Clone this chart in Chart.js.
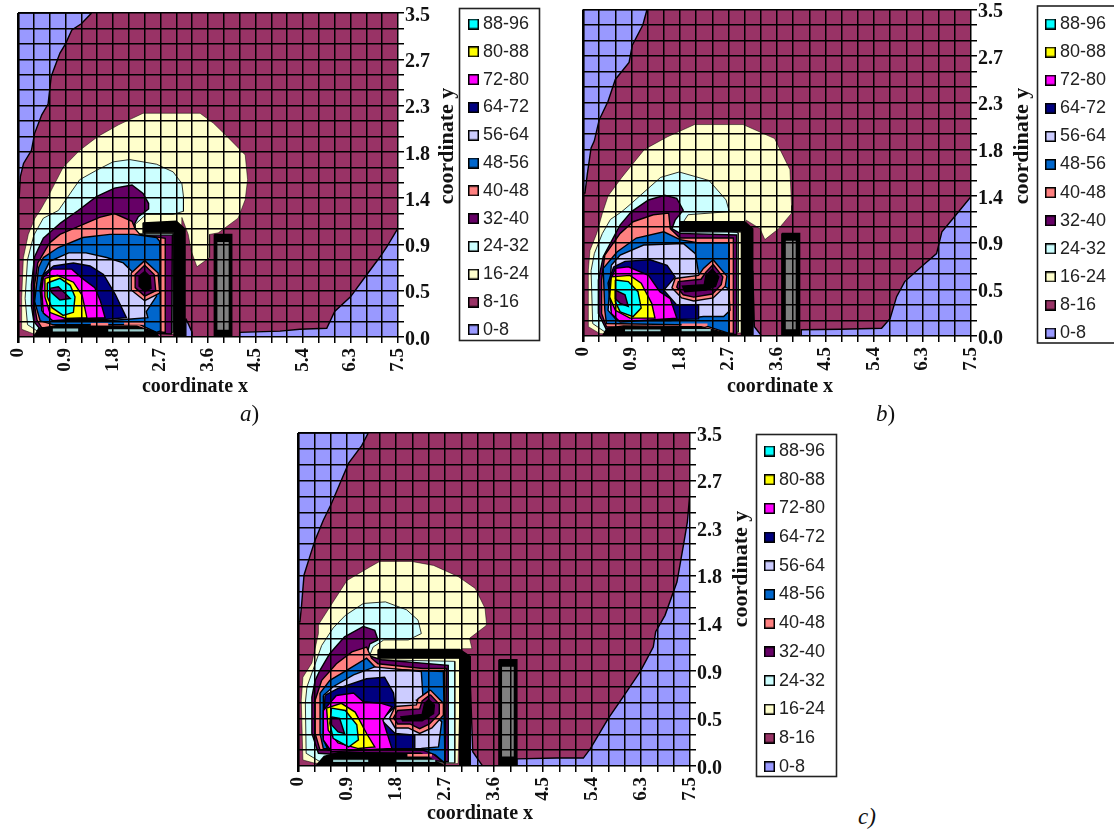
<!DOCTYPE html>
<html>
<head>
<meta charset="utf-8">
<title>coordinate x / coordinate y</title>
<script src="https://cdn.jsdelivr.net/npm/chart.js@4"></script>
<style>
  html, body { margin: 0; background: #fff; overflow: hidden; width: 1114px; height: 833px; }
  canvas { position: absolute; }
  .cap { position: absolute; font: 23px "Liberation Serif", serif; color: #111; }
  .cap i { font-style: italic; }
</style>
</head>
<body>
<canvas id="panelA"></canvas>
<canvas id="panelB"></canvas>
<canvas id="panelC"></canvas>
<span class="cap" style="left:240px;top:401px"><i>a</i>)</span>
<span class="cap" style="left:876px;top:401px"><i>b</i>)</span>
<span class="cap" style="left:858px;top:804px"><i>c)</i></span>
<script>
// axes (the source chart is a surface chart, so both axes run over grid cells)
const xTickLabels = ['0','','','0.9','','','1.8','','','2.7','','','3.6','','','4.5','','','5.4','','','6.3','','','7.5'];
const yTickLabels = ['0.0','','','0.5','','','0.9','','','1.4','','','1.8','','','2.3','','','2.7','','','3.5'];

// legend, top to bottom
const bandLabels = ['88-96','80-88','72-80','64-72','56-64','48-56','40-48','32-40','24-32','16-24','8-16','0-8'];
const bandColors = ['#00ffff','#ffff00','#ff00ff','#000080','#ccccff','#0066cc','#ff8080','#660066','#ccffff','#ffffcc','#993366','#9999ff'];

const wholeField = [[0,0],[24,0],[24,21],[0,21]];

// ---- panel a
const a0to8Left = [[4.65,21],[4,20.3],[3.4,19.9],[3,19],[2.65,18.4],[2.1,16.9],[1.9,15.1],[1.5,14.4],[1.05,13.2],[0.85,12.1],[0.35,11.25],[0.15,10.4],[0.08,9.1],[0,9.1],[0,21]];
const a0to8Right = [[24,0],[24,7.05],[23.3,5.85],[22.87,5.2],[22,4],[21,2.6],[20,1.65],[19.5,0.57],[17.8,0.5],[16.55,0.38],[14,0.3],[14,0]];
const a0to8Wall = [[10.6,1.2],[11,0.3],[11,0],[10.6,0]];
const a16 = [[1.4,8.2],[1.9,9.1],[2.85,11],[3.9,12.1],[5.05,13],[6.35,13.75],[7.9,14.5],[11.5,14.5],[12.35,13.85],[13.2,13],[14.35,11.8],[14.5,10.2],[14.35,8.9],[13.9,7.7],[12.65,6.75],[12.1,6.65],[12.1,5.15],[11.3,4.55],[10.95,5.55],[10.75,6.65],[10.35,7.75],[10.2,0.2],[1,0.2],[0.23,0.5],[0.23,2.55],[0.34,5.15],[0.65,6.65],[1.07,7.7]];
const a24 = [[2.55,8.2],[3.9,10.2],[4.95,10.8],[6,11.35],[7.05,11.5],[8.75,11.2],[9.8,10.7],[10.35,9.95],[10.45,9.1],[10.45,8.15],[9.8,7.95],[8.1,7.95],[7.4,7.3],[7.4,6.7],[9.8,6.7],[9.8,0.3],[4,0.35],[1.2,0.4],[0.6,0.8],[0.45,2.5],[0.6,5],[1,6.6],[1.6,7.7]];
const a32 = [[3.8,8.2],[4.95,9.1],[6.1,9.65],[7.2,9.85],[7.9,9.3],[8.25,8.65],[8.25,8.3],[7.6,7.8],[7.3,7.2],[7.3,6.6],[9.75,6.6],[9.7,0.2],[7.5,0.3],[4,0.5],[1.4,0.5],[1,1],[0.85,2],[0.85,3.4],[1.05,5.2],[1.6,6.4],[2.7,7.4]];
const a40 = [[2,6.1],[2.65,6.65],[3.9,7.2],[5.15,7.75],[6.1,8],[7.2,7.5],[7.4,7],[7.7,6.65],[9.3,6.4],[9.3,0.3],[7.5,0.5],[4,0.6],[1.5,0.6],[1.2,1.1],[1.05,2],[1.05,3.4],[1.25,4.8]];
const a48 = [[1.6,5.15],[2.55,5.8],[4.1,6.45],[5.8,6.65],[7.3,6.65],[8.75,6.45],[8.95,6.2],[9,0.4],[8.75,0.3],[7.7,0.8],[5.2,0.8],[2.2,0.8],[1.4,1.05],[1.05,2.3],[1.3,4.5]];
const a56 = [[1.5,3.85],[2,4.9],[3.2,5.45],[4.3,5.45],[5.6,5.15],[6.65,4.8],[7.3,4.15],[8.75,2.65],[8.1,1.65],[8.2,1.25],[6.95,1.15],[5.6,1.05],[2.2,1.05],[1.5,1.7],[1.4,3.2]];
const a64 = [[1.6,4.05],[2.25,4.6],[3.5,4.8],[4.55,4.6],[5.4,4.05],[6.15,2.75],[6.85,1.25],[5.6,1.15],[2.25,1.15],[1.7,1.45],[1.4,3]];
const a72 = [[1.6,3.85],[2.15,4.4],[3.4,4.4],[4,3.85],[4.85,3.2],[5.2,2.35],[5.5,1.25],[4.15,1.2],[2.2,1.05],[1.6,1.55],[1.5,3]];
const a80 = [[1.7,3.8],[2.5,4],[3.5,3.55],[4.05,2.7],[4.35,1.25],[3,1.2],[2,1.6],[1.7,2.6]];
const a88 = [[1.85,3.5],[2.65,3.8],[3.3,3.35],[3.6,2.6],[3.5,1.6],[2.85,1.4],[2.15,1.9],[1.85,2.6]];
const aCore = [[2,3.15],[2.55,3.25],[3.3,2.5],[2.65,2.4],[2.15,2.85]];
const aHoleOuter = [[8,4.95],[8.85,4.15],[8.95,2.85],[8,2.35],[7.15,3.05],[7.15,4.15]];
const aHoleMid = [[8,4.65],[8.6,4.05],[8.7,3],[8,2.65],[7.4,3.2],[7.4,4.05]];
const aHoleInner = [[8,4.25],[8.35,3.9],[8.4,3.15],[8,2.95],[7.65,3.3],[7.65,3.95]];
const aFloor = [[1,0],[8.9,0],[8.7,0.3],[7.5,0.7],[2.5,0.75],[1.3,0.55]];
const aStripes = [[[2.2,0.35],[3.8,0.35],[3.8,0.55],[2.2,0.55]],[[5.7,0.35],[8,0.35],[8,0.5],[5.7,0.5]]];
const aStripesWarm = [[[4.6,0.75],[5.7,0.75],[5.7,0.9],[4.6,0.9]],[[6.7,0.8],[8,0.8],[8,0.95],[6.7,0.95]]];
const aWall = [[7.9,7.4],[10,7.5],[10.55,7],[10.55,0],[9.85,0],[9.85,6.75],[7.9,6.75]];
const aPillarRim = [[12.4,6.65],[13.5,6.65],[13.5,0],[12.4,0]];
const aPillar = [[12.55,6.2],[13.35,6.2],[13.35,0.43],[12.55,0.43]];

// ---- panel b
const b0to8Left = [[3.96,21],[3.7,20],[3.05,18.7],[2.85,17.6],[2,16.5],[1.55,15.1],[1,13.9],[0.7,12.55],[0.5,12.1],[0.27,10.45],[0.12,9.2],[0,9.2],[0,21]];
const b0to8Right = [[24,0],[24,8.96],[22.9,7.57],[22.2,6.7],[21.87,5.3],[21.05,4.57],[19.9,3.5],[19.4,2.53],[19,1.13],[18.47,0.5],[15.9,0.43],[13.5,0.4],[13.5,0]];
const b0to8Wall = [[10.5,4.2],[10.6,0.6],[11.05,0],[10.5,0]];
const b16 = [[1.55,9],[2.4,10.2],[3.8,12],[5.2,12.8],[6.9,13.6],[9.9,13.6],[11.85,12.7],[12.8,10.7],[12.9,8.4],[12.9,7.9],[12.1,6.9],[11.25,6.2],[10.95,6.9],[10.1,7.45],[9.9,0.2],[1.05,0.15],[0.33,0.6],[0.33,4.25],[0.43,5.5],[0.85,6.6],[1.2,7.9]];
const b24 = [[2.85,8.4],[4.8,10.2],[5.95,10.55],[7.8,10],[8.85,8.75],[9.05,8],[6.5,7.8],[6,7],[9.6,6.65],[9.6,0.25],[1.3,0.3],[0.6,0.8],[0.5,4.2],[0.7,5.3],[1.2,6.6],[1.7,7.5],[2.4,8]];
const b32 = [[2.3,7.15],[3,8],[4.05,8.75],[5.05,9.05],[5.8,8.85],[6.2,8.1],[5.7,7.45],[5.5,6.9],[6,6.6],[9.5,6.5],[9.5,0.1],[1.45,0.4],[0.95,1.45],[0.95,3.6],[1.25,5.1]];
const b40 = [[1.35,5.2],[2.3,6.6],[3.1,7.35],[4.35,7.8],[5.3,7.9],[5.4,6.9],[6,6.3],[9.3,6.3],[9.3,0.17],[1.45,0.6],[1.15,1.45],[1.15,3.6]];
const b48 = [[1.25,4.35],[2.1,5.4],[3.3,6.3],[5,6.7],[6,6.2],[7.05,6],[9.05,6],[9.05,0.17],[7.45,0.7],[1.45,0.8],[1.35,1.65]];
const b56 = [[1.75,4.55],[2.3,5.2],[3.75,5.85],[6.2,5.95],[6.95,5.3],[7.15,4.05],[9,3.05],[9.1,1.65],[8.7,1.25],[7.45,1.25],[5.4,1],[2.1,1],[1.55,1.65]];
const b64 = [[1.9,4.45],[2.6,4.8],[4.15,4.9],[5.2,4.55],[5.7,3.8],[5,2.95],[5.8,2],[7.15,2],[7.15,1.1],[2.5,1],[1.75,1.65],[1.55,3.4]];
const b72 = [[2,4.35],[2.8,4.45],[4.05,3.9],[4.75,2.85],[5.4,2.4],[5.8,1.15],[2.3,0.9],[1.75,1.45],[1.65,3.4]];
const b80 = [[1.75,3.8],[2.9,3.9],[3.6,3.4],[4.25,2.1],[4.45,1.15],[2.9,1.15],[2,1.65],[1.65,2.5]];
const b88 = [[2,3.6],[2.8,3.5],[3.4,2.85],[3.6,1.8],[3.1,1.25],[2.3,1.55],[2,2.2]];
const bCore = [[2,2.95],[2.6,2.65],[2.8,1.9],[2.3,2.1],[2,2.4]];
const bHoleOuter = [[8.05,4.9],[8.9,3.85],[8.8,3.2],[8.05,2.45],[6.85,2.25],[6.1,2.45],[5.5,3.1],[5.7,3.7],[7.15,3.9],[7.45,4.35]];
const bHoleMid = [[8.05,4.6],[8.65,3.8],[8.55,3.3],[8,2.7],[6.85,2.5],[6.2,2.65],[5.8,3.15],[5.9,3.5],[7.3,3.65],[7.6,4.1]];
const bHoleInner = [[8,4.3],[8.4,3.8],[8.2,3.2],[7.6,2.95],[6.3,2.85],[6.15,3.2],[7.5,3.3],[7.6,3.9]];
const bFloor = [[1.2,0],[9,0],[8.8,0.2],[7.3,0.6],[2.5,0.65],[1.5,0.5]];
const bStripes = [[[2.6,0.3],[4.8,0.3],[4.8,0.42],[2.6,0.42]],[[6.1,0.3],[7.9,0.3],[7.9,0.45],[6.1,0.45]]];
const bStripesWarm = [[[6.1,0.65],[7.7,0.65],[7.7,0.8],[6.1,0.8]]];
const bWall = [[6,7.35],[10,7.35],[10.5,6.9],[10.5,0],[9.8,0],[9.8,6.7],[6,6.7]];
const bPillarRim = [[12.3,6.6],[13.4,6.6],[13.4,0],[12.3,0]];
const bPillar = [[12.5,6.17],[13.2,6.17],[13.2,0.39],[12.5,0.39]];

// ---- panel c
const c0to8Left = [[4.3,21],[3.9,20.2],[3.1,19.1],[2.6,17.9],[2.05,16.55],[1.55,15.5],[1.05,14.25],[0.75,13.3],[0.37,12.05],[0.22,10.15],[0.12,9.1],[0,9.1],[0,21]];
const c0to8Right = [[24,0],[24,17.3],[23.84,15.4],[23.6,13.93],[23.2,11.6],[22.47,9.5],[21.9,8.47],[21.75,7.5],[20.95,5.95],[20,4.5],[19,3],[17.9,1.1],[17.47,0.5],[15.85,0.5],[13.4,0.45],[13.4,0]];
const c0to8Wall = [[10.55,5.2],[10.7,0.9],[11.3,0],[10.5,0]];
const c16 = [[1.25,8.9],[2.15,10.35],[3,11.7],[4.4,12.55],[5,12.9],[6.95,12.9],[8.3,12.65],[9.8,11.95],[10.85,11.2],[11.45,9.95],[11.55,8.9],[11.45,8.8],[10.5,8.05],[10.65,7.4],[10,7.4],[9.8,0.15],[1.05,0.17],[0.3,0.38],[0.2,4.15],[0.3,5.6],[0.85,6.5],[1.25,8.35]];
const c24 = [[2.15,8.7],[2.9,9.5],[4,10.25],[5.35,10.35],[6.65,9.85],[7.35,9.2],[7.55,8.35],[6.75,7.95],[5.25,7.95],[4.6,7.5],[4.4,7],[4.8,6.7],[9.6,6.6],[9.6,0.2],[1.3,0.3],[0.5,0.8],[0.45,4],[0.55,5],[0.9,6],[1.45,7.6]];
const c32 = [[1.35,6.05],[1.95,7.1],[2.85,8.15],[4,8.8],[4.7,8.55],[4.9,7.95],[4.4,7.7],[4.2,7],[5.1,6.7],[9.2,6.35],[9.2,0.27],[1.25,0.8],[0.85,2.05],[0.85,4.35],[1.05,5.4]];
const c40 = [[1.45,5.4],[2.35,6.45],[3.3,7.2],[4.2,7.5],[4.5,6.8],[4.9,6.45],[7.65,6.15],[9.1,6.15],[9,0.17],[8,1],[1.35,1],[1.05,2.05],[1.05,4.15]];
const c48 = [[1.35,4.6],[1.95,5.4],[3,6.05],[4.2,6.8],[4.8,6.15],[8.9,5.95],[9,0.17],[8.4,0.7],[7.65,1],[1.55,1.1],[1.35,2.05]];
const c56 = [[1.55,4.45],[2.15,5],[3.4,5.75],[4.7,6.25],[7.55,5.95],[7.65,4.35],[7.25,4.15],[8.8,2.8],[8.6,1.2],[7.55,1.1],[1.85,1],[1.55,1.65]];
const c64 = [[1.65,4.45],[2.45,4.9],[4.2,5.5],[5.3,5.6],[5.85,4.6],[5.95,3.75],[5.1,2.9],[5.95,2.05],[7.15,1.95],[7.15,1.1],[1.85,1],[1.55,1.85]];
const c72 = [[2.35,4.45],[3.4,4.6],[4,4.05],[5.1,3.95],[5.75,3.75],[5.2,2.9],[5.75,1.1],[2.05,0.9],[1.55,1.65],[1.55,3.5]];
const c80 = [[1.75,3.65],[2.65,3.95],[3.5,3.4],[4.2,2.05],[4.7,1.2],[3.7,1.1],[2.45,1.45],[1.85,2.25]];
const c88 = [[2.05,3.65],[2.9,3.5],[3.6,2.6],[3.7,1.65],[3.1,1.2],[2.15,1.75],[1.95,2.7]];
const cCore = [[2.05,3.1],[2.55,3],[2.85,2.05],[2.45,2.15],[2.05,2.6]];
const cHoleOuter = [[8.1,4.8],[8.9,3.95],[8.9,3.2],[8.2,2.4],[7.45,2.05],[6.75,2.4],[5.95,2.4],[5.6,3],[5.95,3.75],[7.25,3.85],[7.35,4.25]];
const cHoleMid = [[8.1,4.5],[8.65,3.9],[8.65,3.3],[8.05,2.65],[7.45,2.35],[6.85,2.65],[6.1,2.65],[5.85,3.05],[6.1,3.5],[7.45,3.6],[7.6,4.1]];
const cHoleInner = [[8,4.2],[8.35,3.85],[8.3,3.3],[7.6,2.85],[6.4,2.85],[6.3,3.1],[7.6,3.25],[7.75,3.95]];
const cFloor = [[1.1,0],[9,0],[8.6,0.2],[7.5,0.8],[2.5,0.85],[1.6,0.6]];
const cStripes = [[[2.15,0.25],[4.3,0.25],[4.3,0.4],[2.15,0.4]],[[6,0.25],[8.4,0.25],[8.4,0.4],[6,0.4]]];
const cStripesWarm = [[[6.7,0.6],[8.2,0.6],[8.2,0.75],[6.7,0.75]]];
const cWall = [[4.9,7.35],[9.9,7.35],[10.55,6.9],[10.55,0],[9.9,0],[9.9,6.8],[4.9,6.8]];
const cPillarRim = [[12.3,6.7],[13.4,6.7],[13.4,0],[12.3,0]];
const cPillar = [[12.45,6.3],[13.25,6.3],[13.25,0.55],[12.45,0.55]];

const LABEL_FONT = '"Liberation Serif", serif';
const LEGEND_FONT = '"Liberation Sans", sans-serif';

function bandColor(label) {
    return bandColors[bandLabels.indexOf(label)];
}

// one closed filled outline; later layers paint over earlier ones
function layer(label, pts, color, edge) {
    return { label: label, pts: pts, color: color || bandColor(label), edge: edge === undefined ? 1.4 : edge };
}

// legend swatch with its black edge, wider than the label box on purpose
function swatch(color) {
    const c = document.createElement('canvas');
    c.width = 11;
    c.height = 11;
    const g = c.getContext('2d');
    g.fillStyle = '#000';
    g.fillRect(0, 0, 11, 11);
    g.fillStyle = color;
    g.fillRect(1.5, 1.5, 8, 8);
    return c;
}

// legend placement, its frame and the two axis captions
const panelDecor = {
    id: 'panelDecor',
    afterLayout(chart, args, o) {
        const lg = chart.legend;
        lg.left = o.legendX;
        lg.right = chart.width;
        lg.top = o.legendY;
        lg.bottom = chart.height;
    },
    afterDraw(chart, args, o) {
        const ctx = chart.ctx;
        ctx.save();
        ctx.strokeStyle = '#222';
        ctx.lineWidth = 1.6;
        ctx.strokeRect(o.frame[0], o.frame[1], o.frame[2], o.frame[3]);
        ctx.fillStyle = '#111';
        ctx.font = 'bold 20px ' + LABEL_FONT;
        ctx.textAlign = 'center';
        ctx.textBaseline = 'middle';
        ctx.fillText('coordinate x', o.xTitle[0], o.xTitle[1]);
        ctx.translate(o.yTitle[0], o.yTitle[1]);
        ctx.rotate(-Math.PI / 2);
        ctx.font = 'bold 22px ' + LABEL_FONT;
        ctx.fillText('coordinate y', 0, 0);
        ctx.restore();
    }
};

function drawPanel(p) {
    const cv = document.getElementById(p.id);
    cv.width = p.w;
    cv.height = p.h;
    cv.style.left = p.x + 'px';
    cv.style.top = p.y + 'px';
    const n = p.layers.length;
    const datasets = p.layers.map((l, i) => ({
        label: l.label,
        data: l.pts.concat([l.pts[0]]).map(q => ({ x: q[0], y: q[1] })),
        showLine: true,
        fill: 'shape',
        tension: 0,
        pointRadius: 0,
        backgroundColor: l.color,
        borderColor: '#000',
        borderWidth: l.edge,
        order: n - i
    }));
    new Chart(cv, {
        type: 'scatter',
        data: { datasets: datasets },
        plugins: [panelDecor],
        options: {
            responsive: false,
            animation: false,
            layout: { padding: { left: p.plot.left, top: p.plot.top, right: 0, bottom: 0 } },
            plugins: {
                tooltip: { enabled: false },
                legend: {
                    position: 'right',
                    align: 'start',
                    labels: {
                        color: '#222',
                        font: { family: LEGEND_FONT, size: 18 },
                        boxWidth: 1,
                        boxHeight: 11,
                        usePointStyle: true,
                        padding: p.legendGap,
                        generateLabels: () => bandLabels.map((t, i) => ({
                            text: t,
                            fontColor: '#222',
                            pointStyle: swatch(bandColors[i]),
                            hidden: false,
                            lineWidth: 0
                        }))
                    }
                },
                panelDecor: { legendX: p.legendX, legendY: p.legendY, frame: p.frame, xTitle: p.xTitle, yTitle: p.yTitle }
            },
            scales: {
                x: {
                    type: 'linear',
                    min: 0,
                    max: 24,
                    afterFit: s => {
                        s.height = p.h - p.plot.bottom;
                        s.paddingLeft = s.paddingRight = 0;
                    },
                    grid: { z: 1, color: '#000', lineWidth: c => c.index === 0 ? 2.6 : 1.5, tickLength: 6 },
                    border: { display: false },
                    ticks: {
                        stepSize: 1,
                        autoSkip: false,
                        minRotation: 90,
                        maxRotation: 90,
                        padding: 5,
                        color: '#111',
                        font: { family: LABEL_FONT, size: 19, weight: 'bold' },
                        callback: v => xTickLabels[v]
                    }
                },
                y: {
                    type: 'linear',
                    position: 'right',
                    min: 0,
                    max: 21,
                    afterFit: s => {
                        s.width = p.w - s.chart.legend.width - p.plot.right;
                        s.paddingTop = s.paddingBottom = 0;
                    },
                    grid: { z: 1, color: '#000', lineWidth: 1.5, tickLength: 6 },
                    border: { display: false },
                    ticks: {
                        stepSize: 1,
                        autoSkip: false,
                        padding: 1,
                        color: '#111',
                        font: { family: LABEL_FONT, size: 20, weight: 'bold', lineHeight: 0.25 },
                        // blank first line nudges the digits down onto the tick
                        callback: v => yTickLabels[v] ? ['', yTickLabels[v]] : ''
                    }
                }
            }
        }
    });
}

function contourLayers(low, bands, core, hole, floor, stripes, warm, wall, rim, pillar) {
    const edges = [0.5, 0.8, 1.4, 1.4, 1.4, 1.4, 1.4, 1.4, 1.4, 1.4];
    return [layer('8-16', wholeField, null, 0)]
        .concat(low.map(q => layer('0-8', q)))
        .concat(['16-24','24-32','32-40','40-48','48-56','56-64','64-72','72-80','80-88','88-96'].map((t, i) => layer(t, bands[i], null, edges[i])))
        .concat([
            layer('32-40', core),
            layer('40-48', hole[0]),
            layer('32-40', hole[1]),
            layer('hole', hole[2], '#000'),
            layer('floor', floor, '#000')
        ])
        .concat(stripes.map(q => layer('floor stripe', q, '#99cccc', 0)))
        .concat(warm.map(q => layer('40-48', q, null, 0)))
        .concat([
            layer('wall', wall, '#000'),
            layer('pillar rim', rim, '#000'),
            layer('pillar', pillar, '#808080')
        ]);
}

drawPanel({
    id: 'panelA', x: 0, y: 0, w: 565, h: 415,
    plot: { left: 18, right: 398, top: 13, bottom: 337 },
    legendX: 463.2, legendY: 5.2, legendGap: 9.8,
    frame: [459.5, 8.5, 80, 332], xTitle: [195, 387], yTitle: [447, 146],
    layers: contourLayers([a0to8Left, a0to8Right, a0to8Wall], [a16, a24, a32, a40, a48, a56, a64, a72, a80, a88], aCore, [aHoleOuter, aHoleMid, aHoleInner], aFloor, aStripes, aStripesWarm, aWall, aPillarRim, aPillar)
});
drawPanel({
    id: 'panelB', x: 565, y: 0, w: 549, h: 415,
    plot: { left: 18, right: 406, top: 9.5, bottom: 336 },
    legendX: 474.9, legendY: 4.9, legendGap: 10.1,
    frame: [472.5, 6, 100, 337], xTitle: [215, 387], yTitle: [457, 146],
    layers: contourLayers([b0to8Left, b0to8Right, b0to8Wall], [b16, b24, b32, b40, b48, b56, b64, b72, b80, b88], bCore, [bHoleOuter, bHoleMid, bHoleInner], bFloor, bStripes, bStripesWarm, bWall, bPillarRim, bPillar)
});
drawPanel({
    id: 'panelC', x: 285, y: 420, w: 570, h: 413,
    plot: { left: 13, right: 405, top: 13, bottom: 346 },
    legendX: 473.3, legendY: 11.3, legendGap: 10.7,
    frame: [471.5, 14.5, 80, 342], xTitle: [195, 394], yTitle: [456, 149],
    layers: contourLayers([c0to8Left, c0to8Right, c0to8Wall], [c16, c24, c32, c40, c48, c56, c64, c72, c80, c88], cCore, [cHoleOuter, cHoleMid, cHoleInner], cFloor, cStripes, cStripesWarm, cWall, cPillarRim, cPillar)
});
</script>
</body>
</html>
